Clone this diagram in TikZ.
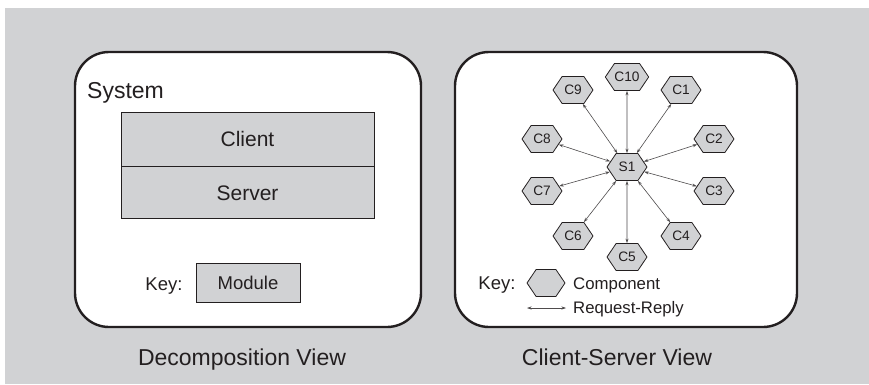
\documentclass[tikz,border=0pt]{standalone}
\usepackage{fontspec}
\setmainfont{Liberation Sans}
\usetikzlibrary{shapes.symbols,arrows.meta}
\definecolor{bg}{HTML}{D1D2D4}
\definecolor{ink}{HTML}{231F20}
\begin{document}
\begin{tikzpicture}[x=1pt,y=1pt,
  panel/.style={draw=ink,line width=2.4pt,fill=white,rounded corners=34pt},
  hexa/.style={signal, signal to=east and west, signal pointer angle=112, draw=ink, line width=0.8pt, fill=bg, minimum width=40pt, minimum height=27pt, inner sep=0pt, font=\fontsize{13.7}{15}\selectfont, text=ink},
  rr/.style={{Stealth[length=4.5pt,width=3pt]}-{Stealth[length=4.5pt,width=3pt]}, draw=ink!80, line width=0.6pt},
  box/.style={draw=ink, line width=0.8pt, fill=bg, inner sep=0pt, text=ink},
  lbl/.style={text=ink, inner sep=0pt}]
\useasboundingbox (0,0) rectangle (869,384);
\fill[bg] (5,0) rectangle (869,376);
% panels
\draw[panel] (75,57) rectangle (421,332);
\draw[panel] (455,57) rectangle (797,332);
% left panel
\node[lbl, anchor=base west, font=\fontsize{23}{26}\selectfont] (sys) at (87,286) {System};
\node[box, minimum width=253pt, minimum height=54pt, font=\fontsize{21}{24}\selectfont] (client) at (247.5,245) {Client};
\node[box, minimum width=253pt, minimum height=52pt, font=\fontsize{21}{24}\selectfont, anchor=north] (server) at (client.south) {Server};
\node[lbl, anchor=base, font=\fontsize{18.5}{21}\selectfont] (keyl) at (164,94) {Key:};
\node[box, minimum width=104pt, minimum height=39pt, font=\fontsize{18.5}{21}\selectfont] (module) at (248,101.5) {Module};
% right panel
\node[hexa] (s1) at (627,217) {S1};
\node[hexa] (c10) at (627,307) {C10};
\node[hexa] (c1) at (681,294) {C1};
\node[hexa] (c2) at (714,245) {C2};
\node[hexa] (c3) at (714,193) {C3};
\node[hexa] (c4) at (681,148) {C4};
\node[hexa] (c5) at (627,127) {C5};
\node[hexa] (c6) at (573,148) {C6};
\node[hexa] (c7) at (542,193) {C7};
\node[hexa] (c8) at (542,245) {C8};
\node[hexa] (c9) at (573,294) {C9};
\foreach \c in {c1,c2,c3,c4,c5,c6,c7,c8,c9,c10} \draw[rr] (s1) -- (\c);
% key
\node[lbl, anchor=base, font=\fontsize{18.5}{21}\selectfont] (keyr) at (497,95) {Key:};
\node[hexa, minimum width=38pt] (keyhex) at (546,101) {};
\node[lbl, anchor=base west, font=\fontsize{16.8}{19}\selectfont] (comp) at (573,95) {Component};
\coordinate (ka) at (527,76);
\coordinate (kb) at (566,76);
\draw[rr] (ka) -- (kb);
\node[lbl, anchor=base west, font=\fontsize{16.7}{19}\selectfont] (rrl) at (573,71) {Request-Reply};
% captions
\node[lbl, anchor=base, font=\fontsize{23}{26}\selectfont] (cap1) at (242,19) {Decomposition View};
\node[lbl, anchor=base, font=\fontsize{23}{26}\selectfont] (cap2) at (617,19) {Client-Server View};
\end{tikzpicture}
\end{document}
